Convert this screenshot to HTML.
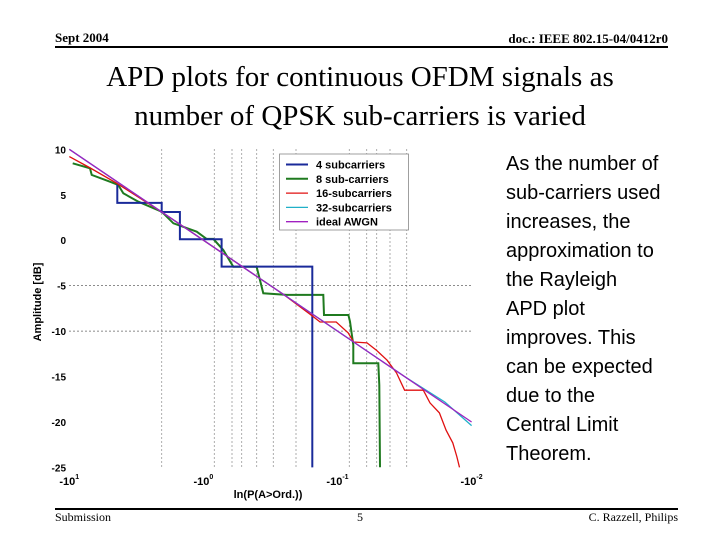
<!DOCTYPE html>
<html><head><meta charset="utf-8"><style>
body{margin:0;width:720px;height:540px;background:#fff;position:relative;overflow:hidden;font-family:"Liberation Serif",serif}
.a{position:absolute;white-space:nowrap}
</style></head><body>
<div class="a" style="left:55px;top:30px;font-size:13px;font-weight:bold">Sept 2004</div>
<div class="a" style="right:52px;top:31px;font-size:13px;font-weight:bold">doc.: IEEE 802.15-04/0412r0</div>
<div class="a" style="left:55px;top:46px;width:613px;height:2px;background:#000"></div>
<div class="a" style="left:0;width:720px;top:58px;text-align:center;font-size:29px;line-height:39px">APD plots for continuous OFDM signals as<br>number of QPSK sub-carriers is varied</div>
<div class="a" style="left:506px;top:150px;font-family:'Liberation Sans',sans-serif;font-size:20px;line-height:29px">As the number of<br>sub-carriers used<br>increases, the<br>approximation to<br>the Rayleigh<br>APD plot<br>improves. This<br>can be expected<br>due to the<br>Central Limit<br>Theorem.</div>
<div class="a" style="left:55px;top:508px;width:623px;height:2px;background:#000"></div>
<div class="a" style="left:55px;top:510px;font-size:12px">Submission</div>
<div class="a" style="left:357px;top:510px;font-size:12px">5</div>
<div class="a" style="right:42px;top:510px;font-size:12px">C. Razzell, Philips</div>
<svg id="chart" width="720" height="540" style="position:absolute;left:0;top:0" font-family="Liberation Sans, sans-serif"></svg>
<script>
// x values are log10 of |ln(P)|, y values are amplitude in dB
const yTicks=[10,5,0,-5,-10,-15,-20,-25];
const xTickExp=[1,0,-1,-2];
const seriesNames=["4 subcarriers","8 sub-carriers","16-subcarriers","32-subcarriers","ideal AWGN"];
const s4x=[0.642,0.642,0.311,0.311,0.175,0.175,-0.136,-0.136,-0.812,-0.812];
const s4y=[6.1,4.1,4.1,3.1,3.1,0.1,0.1,-2.9,-2.9,-25];
const s8x=[0.975,0.846,0.833,0.697,0.635,0.597,0.485,0.311,0.224,0.05,-0.024,-0.074,-0.148,-0.223,-0.397,-0.447,-0.621,-0.894,-0.899,-1.081,-1.093,-1.118,-1.118,-1.304,-1.312,-1.317];
const s8y=[8.46,7.91,7.18,6.44,6.08,5.16,4.24,3.14,1.86,0.94,0.14,0.14,-1.07,-2.91,-2.91,-5.84,-6.02,-6.02,-8.23,-8.23,-8.96,-11.53,-13.54,-13.54,-15.93,-24.98];
const s16x=[1.0,0.85,0.65,0.3,0,-0.3,-0.6,-0.8,-0.87,-0.99,-1.08,-1.12,-1.22,-1.29,-1.37,-1.44,-1.5,-1.64,-1.69,-1.76,-1.81,-1.86,-1.89,-1.91];
const s16y=[9.2,8.0,6.3,3.0,0,-3,-6,-8.2,-9.0,-9.0,-10.2,-11.2,-11.3,-12.1,-13.2,-14.6,-16.5,-16.5,-17.9,-19.0,-20.9,-22.3,-23.8,-25];
const s32x=[1,0.5,0,-0.5,-1,-1.5,-1.8,-2];
const s32y=[10,5,0,-5,-10,-15,-17.8,-20.4];
const idealX=[1,-2];
const idealY=[10,-20];
const NS="http://www.w3.org/2000/svg";
const svg=document.getElementById('chart');
const X=v=>69.3+(1-v)*134.1;
const Y=v=>149.3+(10-v)*9.09;
function mk(t,a,p){const e=document.createElementNS(NS,t);for(const k in a)e.setAttribute(k,a[k]);(p||svg).appendChild(e);return e;}
const vgrid=[161.7,214.3,232,241.7,256.7,273.3,296,349.3,366.7,376.7,390,406.7];
vgrid.forEach((gx,i)=>{const l=mk('line',{x1:gx,x2:gx,y1:149,y2:467,stroke:'#999','stroke-width':0.8,'stroke-dasharray':'2,2'});

});
[-5,-10].forEach(v=>{const l=mk('line',{x1:69,x2:472,y1:Y(v),y2:Y(v),stroke:'#666','stroke-width':0.8,'stroke-dasharray':'2,2'});

});
yTicks.forEach(v=>{const t=mk('text',{x:66,y:Y(v)+4,'text-anchor':'end','font-size':10,'font-weight':'bold'});t.textContent=v;

});
xTickExp.forEach(v=>{const t=mk('text',{x:X(v),y:485,'text-anchor':'middle','font-size':11,'font-weight':'bold'});t.textContent='-10';
const s=mk('tspan',{dy:-6,'font-size':7},t);s.textContent=v;

});
const xt=mk('text',{x:268,y:498,'text-anchor':'middle','font-size':11,'font-weight':'bold'});xt.textContent='ln(P(A>Ord.))';


const yt=mk('text',{x:0,y:0,'text-anchor':'middle','font-size':11,'font-weight':'bold',transform:'translate(41,302) rotate(-90)'});yt.textContent='Amplitude [dB]';


const colors=['#1a2a9a','#1f7a1f','#e01010','#20b0c8','#a020c0'];
const widths=[2,2,1.3,1.3,1.3];
const data=[[s4x,s4y],[s8x,s8y],[s16x,s16y],[s32x,s32y],[idealX,idealY]];
const order=[1,0,2,3,4];
const names=['series-4-subcarriers','series-8-subcarriers','series-16-subcarriers','series-32-subcarriers','series-ideal-awgn'];
order.forEach(i=>{const [xs,ys]=data[i];const pts=xs.map((x,j)=>X(x).toFixed(1)+','+Y(ys[j]).toFixed(1)).join(' ');
const p=mk('polyline',{points:pts,fill:'none',stroke:colors[i],'stroke-width':widths[i]});

});
const lg=mk('g',{});


mk('rect',{x:279.5,y:154,width:129,height:76,fill:'#fff',stroke:'#888','stroke-width':0.8},lg);
seriesNames.forEach((n,i)=>{const yy=164.5+i*14.3;
mk('line',{x1:286,x2:308,y1:yy,y2:yy,stroke:colors[i],'stroke-width':widths[i]},lg);
const t=mk('text',{x:316,y:yy+4,'font-size':11,'font-weight':'bold'},lg);t.textContent=n;

});
</script>
</body></html>
